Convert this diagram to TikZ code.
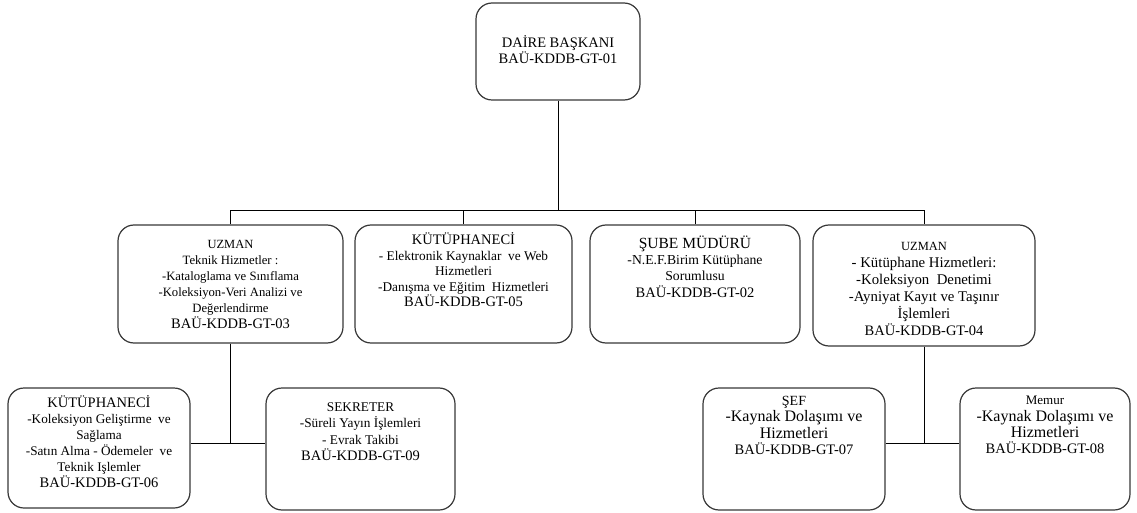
\documentclass[tikz,border=0pt]{standalone}
\usepackage{fontspec}
\setmainfont{Liberation Serif}
\newfontfamily\tnr{Liberation Serif}
\newcommand\fsz[2]{{\fontsize{#1}{16}\selectfont #2}}
\begin{document}
\begin{tikzpicture}[x=1pt,y=-1pt,
  box/.style={draw=black!78, line width=1.2pt, rounded corners=16pt, inner sep=0pt, fill=white},
  txt/.style={anchor=north, align=center, inner sep=0pt},
  conn/.style={draw=black, line width=0.9pt}]
\useasboundingbox (0,0) rectangle (1137,513);
% boxes
\node[box, minimum width=164pt, minimum height=97pt] (b0) at (558,51.5) {};
\node[box, minimum width=225pt, minimum height=118pt] (b1) at (230.5,284) {};
\node[box, minimum width=217pt, minimum height=118pt] (b2) at (463.5,284) {};
\node[box, minimum width=210pt, minimum height=118pt] (b3) at (695,284) {};
\node[box, minimum width=222pt, minimum height=121pt] (b4) at (924,285.5) {};
\node[box, minimum width=182pt, minimum height=120pt] (b6) at (99,448) {};
\node[box, minimum width=189pt, minimum height=122pt] (b9) at (360.5,449) {};
\node[box, minimum width=182pt, minimum height=122pt] (b7) at (794,449) {};
\node[box, minimum width=170pt, minimum height=122pt] (b8) at (1045,449) {};
% texts
\node[txt, font=\tnr\fontsize{14.5}{16}\selectfont] (t0) at (558,35) {DAİRE BAŞKANI\\BAÜ-KDDB-GT-01};
\node[txt, font=\tnr\fontsize{12.7}{16}\selectfont] (t1) at (230.5,240) {\fsz{12.5}{UZMAN}\\Teknik Hizmetler :\\-Kataloglama ve Sınıflama\\-Koleksiyon-Veri Analizi ve\\Değerlendirme\\\fsz{14.5}{BAÜ-KDDB-GT-03}};
\node[txt, font=\tnr\fontsize{13.3}{15.5}\selectfont] (t2) at (463.5,232.5) {\fsz{14.5}{KÜTÜPHANECİ}\\- Elektronik Kaynaklar\ \ ve Web\\Hizmetleri\\-Danışma ve Eğitim\ \ Hizmetleri\\\fsz{14.5}{BAÜ-KDDB-GT-05}};
\node[txt, font=\tnr\fontsize{13.7}{16.3}\selectfont] (t3) at (695,235.5) {\fsz{15.5}{ŞUBE MÜDÜRÜ}\\-N.E.F.Birim Kütüphane\\Sorumlusu\\\fsz{14.5}{BAÜ-KDDB-GT-02}};
\node[txt, font=\tnr\fontsize{14.8}{17}\selectfont] (t4) at (924,242) {\fsz{12.5}{UZMAN}\\- Kütüphane Hizmetleri:\\-Koleksiyon\ \ Denetimi\\-Ayniyat Kayıt ve Taşınır\\İşlemleri\\\fsz{14.5}{BAÜ-KDDB-GT-04}};
\node[txt, font=\tnr\fontsize{13.2}{16}\selectfont] (t6) at (99,395) {\fsz{14.5}{KÜTÜPHANECİ}\\-Koleksiyon Geliştirme\ \ ve\\Sağlama\\-Satın Alma - Ödemeler\ \ ve\\Teknik Işlemler\\\fsz{14.5}{BAÜ-KDDB-GT-06}};
\node[txt, font=\tnr\fontsize{13.3}{16.3}\selectfont] (t9) at (360.5,402.5) {SEKRETER\\-Süreli Yayın İşlemleri\\- Evrak Takibi\\\fsz{14.5}{BAÜ-KDDB-GT-09}};
\node[txt, font=\tnr\fontsize{16}{16.3}\selectfont] (t7) at (794,396) {\fsz{14}{ŞEF}\\-Kaynak Dolaşımı ve\\Hizmetleri\\\fsz{14.5}{BAÜ-KDDB-GT-07}};
\node[txt, font=\tnr\fontsize{16}{16.3}\selectfont] (t8) at (1045,396) {\fsz{13}{Memur}\\-Kaynak Dolaşımı ve\\Hizmetleri\\\fsz{14.5}{BAÜ-KDDB-GT-08}};
% connectors
\coordinate (bus) at (558,210);
\coordinate (jl) at (230,443);
\coordinate (jr) at (925,443);
\draw[conn] (b0.south) -- (bus);
\draw[conn] (b1.north) -- (b1.north |- bus) -- (b4.north |- bus) -- (b4.north);
\draw[conn] (b2.north) -- (b2.north |- bus);
\draw[conn] (b3.north) -- (b3.north |- bus);
\draw[conn] (b1.south) -- (b1.south |- jl);
\draw[conn] (b6.east |- jl) -- (b9.west |- jl);
\draw[conn] (b4.south) -- (b4.south |- jr);
\draw[conn] (b7.east |- jr) -- (b8.west |- jr);
\end{tikzpicture}
\end{document}
